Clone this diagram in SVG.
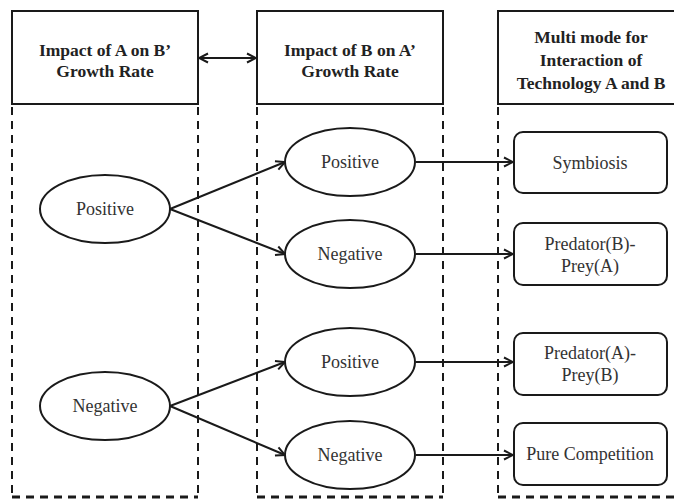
<svg xmlns="http://www.w3.org/2000/svg" width="674" height="500" viewBox="0 0 674 500">
  <defs>
    <marker id="head" markerWidth="12" markerHeight="12" viewBox="0 0 12 12" refX="11" refY="6" orient="auto-start-reverse" markerUnits="userSpaceOnUse">
      <path d="M2,1.5 L11,6 L2,10.5" fill="none" stroke="#1a1a1a" stroke-width="2"/>
    </marker>
  </defs>
  <style>
    .hdr { fill: #fff; stroke: #1a1a1a; stroke-width: 2; }
    .lane { fill: none; stroke: #1a1a1a; stroke-width: 2; stroke-dasharray: 8 6; }
    .laneb { fill: none; stroke: #1a1a1a; stroke-width: 3; stroke-dasharray: 8 6; }
    .ell { fill: #fff; stroke: #1a1a1a; stroke-width: 2; }
    .box { fill: #fff; stroke: #1a1a1a; stroke-width: 2; }
    .edge { fill: none; stroke: #1a1a1a; stroke-width: 2; marker-end: url(#head); }
    text { font-family: 'Liberation Serif', 'DejaVu Serif', serif; }
    .ht { font-weight: bold; font-size: 17.5px; fill: #222; text-anchor: middle; }
    .bt { font-size: 18px; fill: #333; text-anchor: middle; }
  </style>
  <rect width="674" height="500" fill="#fff"/>

  <!-- column lanes -->
  <g id="lanes">
    <path class="lane" d="M12,107 V497 M198,107 V497"/>
    <path class="laneb" d="M12,497 H198"/>
    <path class="lane" d="M257,107 V497 M443,107 V497"/>
    <path class="laneb" d="M257,497 H443"/>
    <path class="lane" d="M498,107 V497"/>
    <path class="laneb" d="M498,497 H674"/>
  </g>

  <!-- column headers -->
  <g id="header-a">
    <rect class="hdr" x="12" y="11" width="186" height="93"/>
    <text class="ht" x="105" y="56">Impact of A on B’</text>
    <text class="ht" x="105" y="77">Growth Rate</text>
  </g>
  <g id="header-b">
    <rect class="hdr" x="257" y="11" width="186" height="93"/>
    <text class="ht" x="350" y="56">Impact of B on A’</text>
    <text class="ht" x="350" y="77">Growth Rate</text>
  </g>
  <g id="header-mode">
    <rect class="hdr" x="498" y="11" width="190" height="93"/>
    <text class="ht" x="591" y="43">Multi mode for</text>
    <text class="ht" x="591" y="66">Interaction of</text>
    <text class="ht" x="591" y="89">Technology A and B</text>
  </g>

  <!-- connectors -->
  <g id="connectors">
    <path class="edge" d="M199,58 H256" marker-start="url(#head)"/>
    <path class="edge" d="M170,209 L285,162"/>
    <path class="edge" d="M170,209 L285,254"/>
    <path class="edge" d="M170,406 L285,362"/>
    <path class="edge" d="M170,406 L285,455"/>
    <path class="edge" d="M416,162 H513"/>
    <path class="edge" d="M416,254 H513"/>
    <path class="edge" d="M416,362 H513"/>
    <path class="edge" d="M416,455 H513"/>
  </g>

  <!-- impact of A on B -->
  <g id="a-positive">
    <ellipse class="ell" cx="105" cy="209" rx="65" ry="34"/>
    <text class="bt" x="105" y="215">Positive</text>
  </g>
  <g id="a-negative">
    <ellipse class="ell" cx="105" cy="406" rx="65" ry="34"/>
    <text class="bt" x="105" y="412">Negative</text>
  </g>

  <!-- impact of B on A -->
  <g id="b-positive-1">
    <ellipse class="ell" cx="350" cy="162" rx="65" ry="34"/>
    <text class="bt" x="350" y="168">Positive</text>
  </g>
  <g id="b-negative-1">
    <ellipse class="ell" cx="350" cy="254" rx="65" ry="34"/>
    <text class="bt" x="350" y="260">Negative</text>
  </g>
  <g id="b-positive-2">
    <ellipse class="ell" cx="350" cy="362" rx="65" ry="34"/>
    <text class="bt" x="350" y="368">Positive</text>
  </g>
  <g id="b-negative-2">
    <ellipse class="ell" cx="350" cy="455" rx="65" ry="34"/>
    <text class="bt" x="350" y="461">Negative</text>
  </g>

  <!-- interaction modes -->
  <g id="symbiosis">
    <rect class="box" x="514" y="132" width="153" height="61" rx="9"/>
    <text class="bt" x="590" y="169">Symbiosis</text>
  </g>
  <g id="predator-b">
    <rect class="box" x="514" y="223" width="153" height="62" rx="9"/>
    <text class="bt" x="590" y="250">Predator(B)-</text>
    <text class="bt" x="590" y="272">Prey(A)</text>
  </g>
  <g id="predator-a">
    <rect class="box" x="514" y="333" width="153" height="62" rx="9"/>
    <text class="bt" x="590" y="359">Predator(A)-</text>
    <text class="bt" x="590" y="381">Prey(B)</text>
  </g>
  <g id="pure-competition">
    <rect class="box" x="514" y="423" width="153" height="62" rx="9"/>
    <text class="bt" x="590" y="460">Pure Competition</text>
  </g>
</svg>
